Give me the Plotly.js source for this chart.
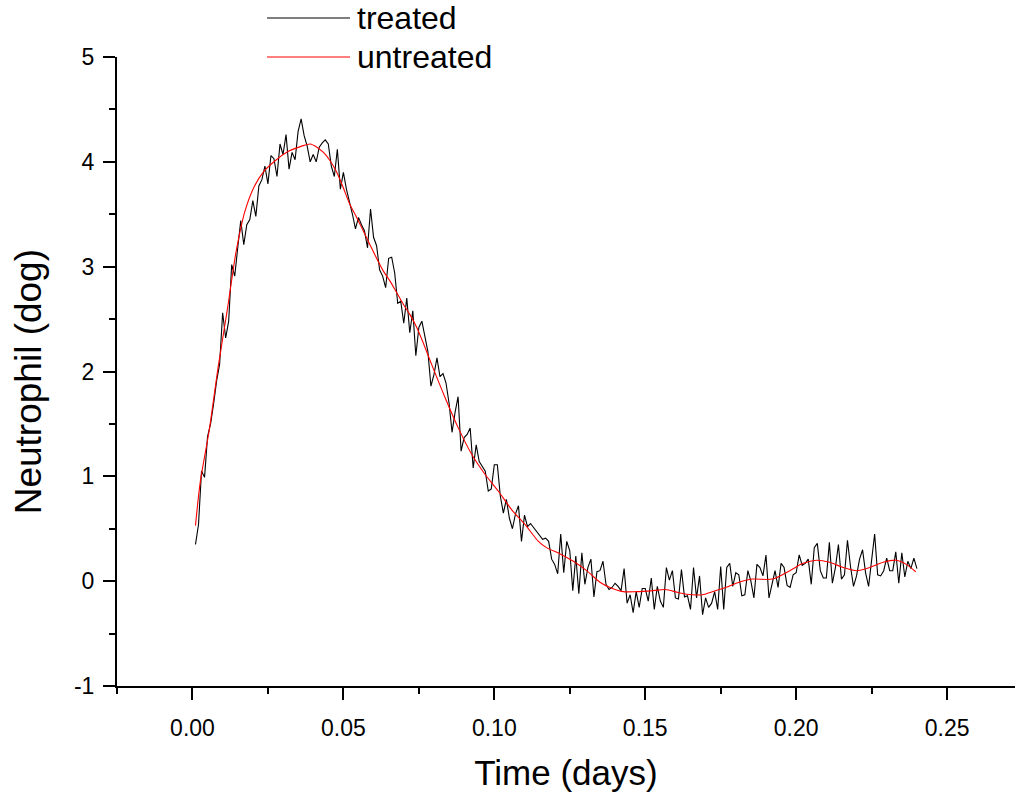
<!DOCTYPE html>
<html>
<head>
<meta charset="utf-8">
<script src="https://cdn.plot.ly/plotly-3.0.1.min.js"></script>
<style>html,body{margin:0;padding:0;background:#fff;}#chart{width:1017px;height:792px;}</style>
</head>
<body>
<div id="chart"></div>
<script>
// ---- data ----
const seriesNames = ["treated", "untreated"];

// treated: sampled every 0.001 day, starting at 0.001 day
const treatedStart = 0.001;
const treatedStep = 0.001;
const treatedValues = [
  0.35,0.54,1.05,0.99,1.38,1.50,1.69,1.91,2.07,2.56,
  2.32,2.48,3.02,2.91,3.18,3.44,3.21,3.40,3.45,3.63,
  3.48,3.77,3.83,3.96,3.79,4.06,4.03,3.86,4.17,4.07,
  4.26,3.93,4.09,4.02,4.29,4.41,4.25,4.15,4.00,4.07,
  4.00,4.14,4.18,4.21,4.17,3.96,3.86,4.12,3.74,3.90,
  3.74,3.63,3.50,3.36,3.47,3.40,3.34,3.18,3.55,3.28,
  3.20,2.97,2.91,2.80,3.08,3.09,2.94,2.65,2.67,2.46,
  2.70,2.37,2.58,2.15,2.42,2.48,2.34,2.19,1.86,1.97,
  2.13,1.95,1.98,1.89,1.70,1.42,1.61,1.76,1.24,1.37,
  1.40,1.46,1.08,1.30,1.14,1.10,1.05,0.86,0.88,1.11,
  1.11,0.81,0.65,0.78,0.60,0.50,0.64,0.72,0.38,0.63,
  0.52,0.55,0.51,0.47,0.44,0.40,0.41,0.38,0.21,0.16,
  0.07,0.45,0.08,0.38,0.29,-0.09,0.24,-0.12,0.27,-0.03,
  0.13,0.21,-0.15,0.09,0.10,0.19,-0.03,-0.08,-0.06,-0.02,
  -0.05,-0.09,0.12,-0.21,-0.13,-0.30,-0.10,-0.25,-0.07,-0.07,
  -0.19,0.03,-0.27,-0.05,-0.19,-0.25,0.13,0.01,0.10,-0.16,
  -0.17,0.11,-0.15,-0.14,-0.27,0.13,-0.16,0.05,-0.32,-0.16,
  -0.25,-0.21,-0.10,-0.27,0.14,-0.27,0.13,0.17,-0.05,0.08,
  0.06,-0.14,-0.13,0.10,0.00,-0.16,0.16,0.13,0.05,0.25,
  -0.16,-0.03,0.10,-0.06,0.17,0.13,-0.04,-0.06,0.06,0.08,
  0.25,0.15,0.17,0.21,-0.03,0.32,0.36,0.10,0.03,0.03,
  0.37,-0.02,0.13,0.35,0.02,0.06,0.39,0.14,-0.05,0.05,
  0.21,0.30,0.08,-0.05,0.19,0.45,0.06,0.05,0.10,0.22,
  0.10,0.10,0.28,-0.02,0.27,0.04,0.19,0.12,0.22,0.12
];

// untreated: smooth curve, read at these times
const untreatedTime = [
  0.001,0.0026,0.0055,0.0085,0.0115,0.0145,0.0174,0.0204,0.0234,0.0274,
  0.0318,0.0362,0.0390,0.0412,0.0434,0.0456,0.0478,0.0500,0.0522,0.0544,
  0.0566,0.0588,0.0610,0.0632,0.0655,0.0677,0.0699,0.0721,0.0743,0.0765,
  0.0792,0.0837,0.0881,0.0925,0.0969,0.1013,0.1058,0.1102,0.1146,0.1173,
  0.1218,0.1262,0.1306,0.1350,0.1383,0.1427,0.1471,0.1527,0.1567,0.1611,
  0.1656,0.1689,0.1722,0.1766,0.1811,0.1855,0.1921,0.1979,0.2023,0.2067,
  0.2111,0.2156,0.2200,0.2244,0.2288,0.2332,0.2365,0.2396
];
const untreatedValues = [
  0.53,0.95,1.43,2.04,2.58,3.15,3.53,3.76,3.90,4.01,
  4.10,4.15,4.17,4.14,4.09,4.01,3.90,3.75,3.59,3.47,
  3.34,3.21,3.08,2.96,2.86,2.75,2.64,2.54,2.42,2.27,
  2.07,1.75,1.46,1.21,1.02,0.86,0.68,0.54,0.38,0.32,
  0.26,0.19,0.10,-0.01,-0.06,-0.10,-0.10,-0.09,-0.08,-0.11,
  -0.13,-0.13,-0.10,-0.06,-0.01,0.02,0.02,0.10,0.17,0.20,
  0.18,0.13,0.10,0.13,0.18,0.20,0.16,0.09
];

const xTickVals = [0, 0.05, 0.10, 0.15, 0.20, 0.25];
const xTickText = ["0.00", "0.05", "0.10", "0.15", "0.20", "0.25"];
const yTickVals = [-1, 0, 1, 2, 3, 4, 5];
const yTickText = ["-1", "0", "1", "2", "3", "4", "5"];
const xTitle = "Time (days)";
const yTitle = "Neutrophil (dog)";

// ---- chart ----
const FONT = "Liberation Sans, Arial, sans-serif";

const traces = [
  {
    type: "scatter", mode: "lines", name: seriesNames[0],
    x0: treatedStart, dx: treatedStep, y: treatedValues,
    line: {color: "#000000", width: 1.1},
    showlegend: false
  },
  {
    type: "scatter", mode: "lines", name: seriesNames[1],
    x: untreatedTime, y: untreatedValues,
    line: {color: "#ff0000", width: 1.1, shape: "spline", smoothing: 0.8},
    showlegend: false
  }
];

const axisCommon = {
  showgrid: false, zeroline: false, showline: true,
  linecolor: "#000", linewidth: 2,
  ticks: "outside", ticklen: 12, tickwidth: 2, tickcolor: "#000",
  tickfont: {family: FONT, size: 23, color: "#000"},
  mirror: false
};

const layout = {
  width: 1017, height: 792,
  margin: {l: 117, r: 2, t: 57, b: 106},
  paper_bgcolor: "#fff", plot_bgcolor: "#fff",
  font: {family: FONT, color: "#000"},
  showlegend: false,
  xaxis: Object.assign({}, axisCommon, {
    range: [-0.025, 0.2725],
    tickmode: "array", tickvals: xTickVals, ticktext: xTickText,
    ticklabelstandoff: 8,
    minor: {dtick: 0.025, tick0: 0, ticks: "outside", ticklen: 6, tickwidth: 2, tickcolor: "#000", showgrid: false},
    title: {text: xTitle, font: {family: FONT, size: 35, color: "#000"}, standoff: 26}
  }),
  yaxis: Object.assign({}, axisCommon, {
    range: [-1, 5],
    tickmode: "array", tickvals: yTickVals, ticktext: yTickText,
    ticklabelstandoff: 4,
    minor: {dtick: 0.5, tick0: 0, ticks: "outside", ticklen: 6, tickwidth: 2, tickcolor: "#000", showgrid: false}
  }),
  shapes: [
    {type: "line", xref: "paper", yref: "paper", x0: 0.167, x1: 0.2595, y0: 1.062, y1: 1.062, line: {color: "#000", width: 1.2}},
    {type: "line", xref: "paper", yref: "paper", x0: 0.167, x1: 0.2595, y0: 1.0, y1: 1.0, line: {color: "#ff0000", width: 1.2}}
  ],
  annotations: [
    {xref: "paper", yref: "paper", x: 0.265, y: 1.062, xanchor: "left", yanchor: "middle", showarrow: false,
     text: seriesNames[0], font: {family: FONT, size: 32, color: "#000"}},
    {xref: "paper", yref: "paper", x: 0.265, y: 1.0, xanchor: "left", yanchor: "middle", showarrow: false,
     text: seriesNames[1], font: {family: FONT, size: 32, color: "#000"}},
    {xref: "paper", yref: "paper", x: -0.099, y: 0.483, xanchor: "center", yanchor: "middle", showarrow: false,
     textangle: -90, text: yTitle, font: {family: FONT, size: 37, color: "#000"}}
  ]
};

Plotly.newPlot("chart", traces, layout, {displayModeBar: false, staticPlot: true});
</script>
</body>
</html>
